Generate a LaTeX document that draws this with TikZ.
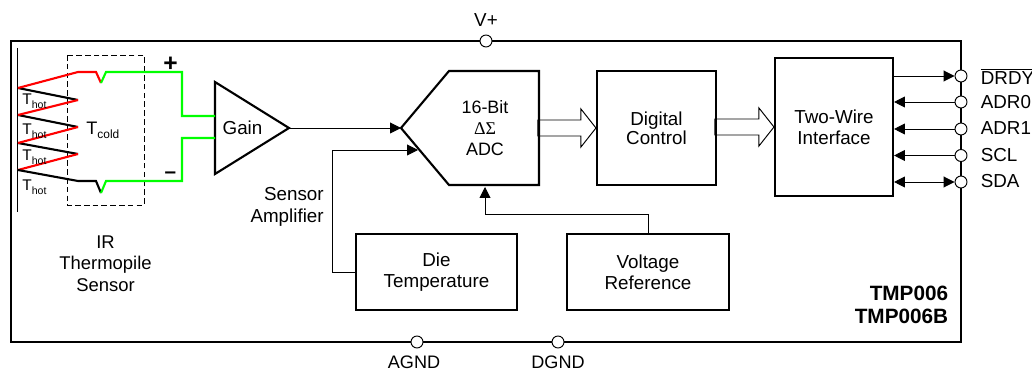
\documentclass[tikz,border=0pt]{standalone}
\usepackage{fontspec}
\setmainfont{Liberation Sans}
\newfontfamily\deltafont{Liberation Serif}
\usetikzlibrary{arrows.meta,positioning}
\definecolor{hotred}{RGB}{255,0,0}
\definecolor{coldgreen}{RGB}{0,255,0}
\newcommand{\tempsub}[3]{{\fontsize{#1}{#1}\selectfont T}\raisebox{-2pt}{\fontsize{#2}{#2}\selectfont #3}}

\begin{document}
\begin{tikzpicture}[x=0.02cm, y=-0.02cm, align=center, font=\fontsize{10.7}{12.2}\selectfont]
    \tikzset{
        n/.style        =   { rectangle
                            , draw=black
                            , line width=1.2pt
                            , inner sep=0pt
        }
        , pad/.style    =   { circle
                            , draw=black
                            , fill=white
                            , line width=0.55pt
                            , minimum size=0.24cm
                            , inner sep=0pt
        }
        , txt/.style    =   { inner sep=0pt
        }
        , arrow/.style  =   { line width=0.55pt
                            , -{Triangle[length=6.2pt, width=6.2pt]}
        }
        , both/.style   =   { line width=0.55pt
                            , {Triangle[length=6.2pt, width=6.2pt]}-{Triangle[length=6.2pt, width=6.2pt]}
        }
        , hollow/.style =   { line width=0.55pt
                            , draw=black
        }
        , hot/.style    =   { line width=1.2pt
                            , draw=hotred
        }
        , lead/.style   =   { line width=1.2pt
                            , draw=coldgreen
        }
        , ret/.style    =   { line width=1.2pt
                            , draw=black
        }
    }
    \useasboundingbox (0,0) rectangle (1032,371);

    % package outline
    \node(frame)[n, minimum width=19cm, minimum height=6.02cm] at (486,191.5) {};

    % thermopile
    \draw[line width=0.55pt] (17,48) -- (17,212);
    \draw[line width=0.55pt, dash pattern=on 3.2pt off 1.8pt] (67,55) rectangle (144,205);
    \foreach \a/\b in {88/100, 115/127, 143/154}
        \draw[ret] (18,\a) -- (78,\b);
    \foreach \a/\b in {115/100, 143/127, 170/154}
        \draw[hot] (18,\a) -- (78,\b);
    \draw[ret] (18,170) -- (78,181) -- (96,181) -- (101,193);
    \draw[hot] (18,88) -- (78,72) -- (96,72) -- (101,83);

    \node(gainbox)[txt] at (242.5,128) {Gain};
    \coordinate(gaintop) at (215,82);
    \coordinate(gainbot) at (215,174);
    \coordinate(gaintip) at (289,128);
    \coordinate(gainp) at (215,116);
    \coordinate(gainm) at (215,138);
    \draw[line width=1.2pt, line join=miter] (gaintop) -- (gaintip) -- (gainbot) -- cycle;
    \draw[lead] (101,83) -- (106,72) -- (182,72) -- (182,116) -- (gainp);
    \draw[lead] (101,193) -- (106,181) -- (182,181) -- (182,138) -- (gainm);

    \node(plus)[txt, font=\fontsize{14}{14}\selectfont] at (170.5,64) {\textbf{+}};
    \node(minus)[txt, font=\fontsize{11.8}{12}\selectfont] at (170.5,175.5) {\textbf{–}};
    \foreach \y in {105, 134.5, 161, 191}
        \node[txt, anchor=base west] at (22,\y) {\tempsub{8.8}{6}{hot}};
    \node(tcold)[txt, anchor=base west] at (86,135) {\tempsub{10.3}{6.8}{cold}};
    \node(sensor)[txt, font=\fontsize{10.5}{12.2}\selectfont] at (105.5,263.5) {IR\\Thermopile\\Sensor};

    % converter
    \coordinate(adctip) at (401,128);
    \coordinate(adcin) at (418,150);
    \coordinate(adcbot) at (485,187);
    \draw[line width=1.2pt] (adctip) -- (449,71) -- (539,71) -- (539,185) -- (449,185) -- cycle;
    \node(adc)[txt, font=\fontsize{10.2}{12}\selectfont] at (485,128) {16-Bit\\{\deltafont ΔΣ}\\ADC};

    \node(digital)[n, minimum width=2.38cm, minimum height=2.28cm, font=\fontsize{10.7}{10.8}\selectfont] at (656.5,128) {Digital\\Control};
    \node(wire)[n, minimum width=2.36cm, minimum height=2.76cm] at (834,127) {Two-Wire\\Interface};
    \node(die)[n, minimum width=3.22cm, minimum height=1.52cm] at (436.5,272) {Die\\Temperature};
    \node(vref)[n, minimum width=3.24cm, minimum height=1.52cm] at (648,272) {Voltage\\Reference};

    \node(amp)[txt, anchor=east, align=right] at (324,207) {Sensor\\Amplifier};

    \draw[hollow] (digital.west) -- ++(-15,-19) -- ++(0,11) -- ++(-43,0) -- ++(0,16) -- ++(43,0) -- ++(0,11) -- cycle;
    \draw[hollow] (wire.west) -- ++(-15,-19) -- ++(0,11) -- ++(-44,0) -- ++(0,16) -- ++(44,0) -- ++(0,11) -- cycle;

    \draw[arrow] (gaintip) -- (adctip);
    \draw[arrow] (die.west) -| (332,150) -- (adcin);
    \draw[arrow] (vref.north) |- (485,214) -- (adcbot);

    % pins
    \node(vplus)[pad] at (486,41) {};
    \node(agnd)[pad] at (417,342) {};
    \node(dgnd)[pad] at (558,342) {};
    \node(vplusl)[txt] at (486,20) {V+};
    \node(agndl)[txt, font=\fontsize{10.3}{12}\selectfont] at (414,362.5) {AGND};
    \node(dgndl)[txt, font=\fontsize{10.3}{12}\selectfont] at (558,362.5) {DGND};

    \node(drdy)[pad] at (961,76) {};
    \node(adr0)[pad] at (961,102) {};
    \node(adr1)[pad] at (961,129) {};
    \node(scl)[pad] at (961,155.5) {};
    \node(sda)[pad] at (961,182) {};

    \node[txt, anchor=west] at (980.5,76.5) {$\overline{\mbox{DRDY}}$};
    \node[txt, anchor=west] at (980.5,102) {ADR0};
    \node[txt, anchor=west] at (980.5,128.5) {ADR1};
    \node[txt, anchor=west] at (980.5,155) {SCL};
    \node[txt, anchor=west] at (980.5,181.5) {SDA};

    \draw[arrow] (wire.east |- drdy) -- (drdy);
    \draw[arrow] (adr0) -- (wire.east |- adr0);
    \draw[arrow] (adr1) -- (wire.east |- adr1);
    \draw[arrow] (scl) -- (wire.east |- scl);
    \draw[both] (wire.east |- sda) -- (sda);

    \node(part)[txt, anchor=east, align=right, font=\fontsize{11.8}{12.8}\selectfont] at (948.5,305) {\textbf{TMP006}\\\textbf{TMP006B}};
\end{tikzpicture}
\end{document}
